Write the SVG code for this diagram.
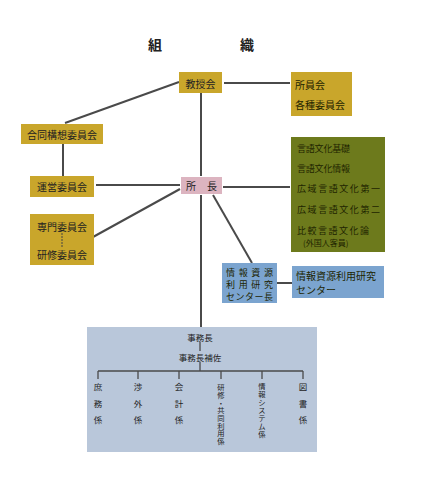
<svg xmlns="http://www.w3.org/2000/svg" width="425" height="487" viewBox="0 0 425 487">
<style>
text{font-family:"Noto Sans CJK JP","Noto Sans CJK SC",sans-serif;fill:#222;}
.t{font-size:10px;text-anchor:middle;dominant-baseline:central;}
.s{font-size:9px;text-anchor:start;dominant-baseline:central;fill:#1e2400;}
.v{font-size:8.5px;text-anchor:middle;dominant-baseline:central;}
.vs{font-size:7.3px;text-anchor:middle;dominant-baseline:central;}
.gold{fill:#c9a62b;}
.green{fill:#6d7a1c;}
.pink{fill:#dcb4c0;}
.blue{fill:#7ba4cf;}
.pale{fill:#b9c7da;}
.ln{stroke:#4a4a4a;stroke-width:2;fill:none;}
.lt{stroke:#4a4a4a;stroke-width:1.3;fill:none;}
</style>
<rect width="425" height="487" fill="#fff"/>
<text x="155" y="44" style="font-size:14px;font-weight:bold;text-anchor:middle;dominant-baseline:central">組</text>
<text x="247" y="44" style="font-size:14px;font-weight:bold;text-anchor:middle;dominant-baseline:central">織</text>

<g id="connectors">
<line class="ln" x1="224" y1="83" x2="290" y2="83"/>
<line class="ln" x1="179" y1="82" x2="65" y2="123"/>
<line class="ln" x1="201" y1="93" x2="201" y2="176"/>
<line class="ln" x1="63" y1="144" x2="63" y2="176"/>
<line class="ln" x1="96" y1="185" x2="180" y2="185"/>
<line class="ln" x1="180" y1="189" x2="93" y2="237"/>
<line class="ln" x1="223" y1="187" x2="290" y2="187"/>
<line class="ln" x1="201" y1="195" x2="201" y2="327"/>
<line class="ln" x1="213" y1="195" x2="252" y2="263"/>
<line class="ln" x1="277" y1="283" x2="292" y2="283"/>
</g>

<g id="n-kyoju">
<rect class="gold" x="179" y="72" width="43" height="21"/>
<text class="t" x="200.5" y="83">教授会</text>
</g>
<g id="n-shoin">
<rect class="gold" x="291" y="72" width="61" height="44"/>
<text class="s" x="295" y="84" style="font-size:10px">所員会</text>
<text class="s" x="295" y="104" style="font-size:10px">各種委員会</text>
</g>
<g id="n-godo">
<rect class="gold" x="21" y="124" width="82" height="20"/>
<text class="t" x="62" y="134">合同構想委員会</text>
</g>
<g id="n-unei">
<rect class="gold" x="30" y="176" width="64" height="21"/>
<text class="t" x="62" y="186">運営委員会</text>
</g>
<g id="n-senmon">
<rect class="gold" x="30" y="214" width="64" height="51"/>
<text class="t" x="62" y="226">専門委員会</text>
<line x1="62" y1="233" x2="62" y2="247" stroke="#444" stroke-width="1" stroke-dasharray="2,1"/>
<text class="t" x="62" y="254">研修委員会</text>
</g>
<g id="n-shocho">
<rect class="pink" x="181" y="177" width="41" height="17"/>
<text class="t" x="191" y="185.5">所</text>
<text class="t" x="212" y="185.5">長</text>
</g>
<g id="n-bumon">
<rect class="green" x="291" y="137" width="94" height="115"/>
<text class="s" x="297" y="148" textLength="53" lengthAdjust="spacing">言語文化基礎</text>
<text class="s" x="297" y="168" textLength="53" lengthAdjust="spacing">言語文化情報</text>
<text class="s" x="297" y="188" textLength="83" lengthAdjust="spacing">広域言語文化第一</text>
<text class="s" x="297" y="209" textLength="83" lengthAdjust="spacing">広域言語文化第二</text>
<text class="s" x="297" y="230" textLength="72" lengthAdjust="spacing">比較言語文化論</text>
<text class="s" x="303" y="242" style="font-size:8px">(外国人客員)</text>
</g>
<g id="n-centerchou">
<rect class="blue" x="222" y="263" width="55" height="40"/>
<text class="s" x="226" y="272" textLength="47" lengthAdjust="spacing">情報資源</text>
<text class="s" x="226" y="284" textLength="47" lengthAdjust="spacing">利用研究</text>
<text class="s" x="226" y="296" textLength="47" lengthAdjust="spacing">センター長</text>
</g>
<g id="n-center">
<rect class="blue" x="292" y="266" width="92" height="32"/>
<text class="s" x="296" y="275" style="font-size:10px" textLength="80" lengthAdjust="spacing">情報資源利用研究</text>
<text class="s" x="296" y="289" style="font-size:10px">センター</text>
</g>
<g id="n-jimu">
<rect class="pale" x="87" y="327" width="230" height="125"/>
<text class="v" x="200" y="337">事務長</text>
<line class="lt" x1="200" y1="342" x2="200" y2="351"/>
<text class="v" x="200" y="357">事務長補佐</text>
<line class="lt" x1="200" y1="362" x2="200" y2="371"/>
<line class="lt" x1="98" y1="371" x2="303" y2="371"/>
<line class="lt" x1="98" y1="371" x2="98" y2="379"/>
<line class="lt" x1="138" y1="371" x2="138" y2="379"/>
<line class="lt" x1="179" y1="371" x2="179" y2="379"/>
<line class="lt" x1="221" y1="371" x2="221" y2="379"/>
<line class="lt" x1="262" y1="371" x2="262" y2="379"/>
<line class="lt" x1="303" y1="371" x2="303" y2="379"/>
<g>
<text class="v" x="98" y="386">庶</text><text class="v" x="98" y="403">務</text><text class="v" x="98" y="419">係</text>
<text class="v" x="138" y="386">渉</text><text class="v" x="138" y="403">外</text><text class="v" x="138" y="419">係</text>
<text class="v" x="179" y="386">会</text><text class="v" x="179" y="403">計</text><text class="v" x="179" y="419">係</text>
<text class="v" x="303" y="386">図</text><text class="v" x="303" y="403">書</text><text class="v" x="303" y="419">係</text>
<text class="vs" x="221" y="387">研</text><text class="vs" x="221" y="395">修</text><text class="vs" x="221" y="402.5">・</text><text class="vs" x="221" y="410">共</text><text class="vs" x="221" y="418">同</text><text class="vs" x="221" y="425.5">利</text><text class="vs" x="221" y="433">用</text><text class="vs" x="221" y="441">係</text>
<text class="vs" x="262" y="386">情</text><text class="vs" x="262" y="394">報</text><text class="vs" x="262" y="402">シ</text><text class="vs" x="262" y="410">ス</text><text class="vs" x="262" y="418">テ</text><text class="vs" x="262" y="426">ム</text><text class="vs" x="262" y="434">係</text>
</g>
</g>
</svg>
